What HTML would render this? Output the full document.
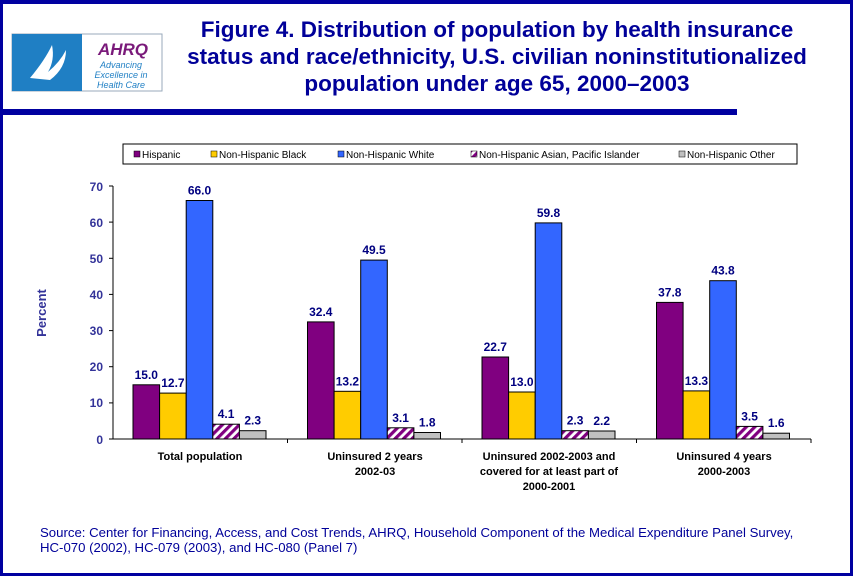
<!DOCTYPE html>
<html><head><meta charset="utf-8"><style>
body{margin:0;width:853px;height:576px;overflow:hidden;background:#fff;font-family:"Liberation Sans",Arial,sans-serif}
</style></head><body>
<svg width="853" height="576" xmlns="http://www.w3.org/2000/svg" font-family="Liberation Sans, Arial, sans-serif">
<defs>
<pattern id="h" width="6" height="6" patternUnits="userSpaceOnUse" patternTransform="rotate(45)">
<rect width="6" height="6" fill="#fff"/><rect width="3.2" height="6" fill="#800080"/></pattern>
</defs>
<rect x="1.5" y="1.5" width="850" height="573" fill="#fff" stroke="#0000a0" stroke-width="3"/>
<rect x="0" y="0" width="853" height="4" fill="#0000a0"/>
<rect x="0" y="109" width="737" height="6" fill="#0000a0"/>
<rect x="12" y="34" width="150" height="57" fill="#fff" stroke="#9ab" stroke-width="1"/>
<rect x="12" y="34" width="70" height="57" fill="#1f7fc4"/>
<path d="M30 78 Q45 60 52 45 Q55 60 48 72 Q60 62 66 50 Q66 68 50 80 Z" fill="#fff"/>
<text x="123" y="55" font-size="17" font-weight="bold" font-style="italic" fill="#7a1a7a" text-anchor="middle">AHRQ</text>
<text x="121" y="68" font-size="9" font-style="italic" fill="#1f7fc4" text-anchor="middle">Advancing</text>
<text x="121" y="78" font-size="9" font-style="italic" fill="#1f7fc4" text-anchor="middle">Excellence in</text>
<text x="121" y="88" font-size="9" font-style="italic" fill="#1f7fc4" text-anchor="middle">Health Care</text>
<g font-size="22.5" font-weight="bold" fill="#000099" text-anchor="middle">
<text x="497" y="37">Figure 4. Distribution of population by health insurance</text>
<text x="497" y="64">status and race/ethnicity, U.S. civilian noninstitutionalized</text>
<text x="497" y="91">population under age 65, 2000–2003</text>
</g>
<rect x="123" y="144" width="674" height="20" fill="#fff" stroke="#000"/>
<g font-size="10" fill="#000">
<rect x="134" y="151" width="6" height="6" fill="#800080" stroke="#000" stroke-width=".5"/><text x="142" y="158">Hispanic</text>
<rect x="211" y="151" width="6" height="6" fill="#ffcc00" stroke="#000" stroke-width=".5"/><text x="219" y="158">Non-Hispanic Black</text>
<rect x="338" y="151" width="6" height="6" fill="#3366ff" stroke="#000" stroke-width=".5"/><text x="346" y="158">Non-Hispanic White</text>
<rect x="471" y="151" width="6" height="6" fill="url(#h)" stroke="#000" stroke-width=".5"/><text x="479" y="158">Non-Hispanic Asian, Pacific Islander</text>
<rect x="679" y="151" width="6" height="6" fill="#c0c0c0" stroke="#000" stroke-width=".5"/><text x="687" y="158">Non-Hispanic Other</text>
</g>
<g stroke="#000" stroke-width="1">
<line x1="113" y1="186" x2="113" y2="439"/>
<line x1="113" y1="439" x2="811" y2="439"/>
<line x1="109" y1="186" x2="113" y2="186"/><line x1="109" y1="222.1" x2="113" y2="222.1"/>
<line x1="109" y1="258.3" x2="113" y2="258.3"/><line x1="109" y1="294.4" x2="113" y2="294.4"/>
<line x1="109" y1="330.6" x2="113" y2="330.6"/><line x1="109" y1="366.7" x2="113" y2="366.7"/>
<line x1="109" y1="402.9" x2="113" y2="402.9"/><line x1="109" y1="439" x2="113" y2="439"/>
<line x1="287.5" y1="439" x2="287.5" y2="443"/><line x1="462" y1="439" x2="462" y2="443"/>
<line x1="636.5" y1="439" x2="636.5" y2="443"/><line x1="811" y1="439" x2="811" y2="443"/>
</g>
<g font-size="12" font-weight="bold" fill="#333399" text-anchor="end">
<text x="103" y="191">70</text><text x="103" y="227">60</text><text x="103" y="263">50</text>
<text x="103" y="299">40</text><text x="103" y="335">30</text><text x="103" y="371">20</text>
<text x="103" y="407">10</text><text x="103" y="444">0</text>
</g>
<text transform="translate(46,313) rotate(-90)" font-size="13" font-weight="bold" fill="#333399" text-anchor="middle">Percent</text>
<g stroke="#000" stroke-width="1">
<rect x="133" y="384.8" width="26.6" height="54.2" fill="#800080"/>
<rect x="159.6" y="393.1" width="26.6" height="45.9" fill="#ffcc00"/>
<rect x="186.2" y="200.5" width="26.6" height="238.5" fill="#3366ff"/>
<rect x="212.8" y="424.2" width="26.6" height="14.8" fill="url(#h)"/>
<rect x="239.4" y="430.7" width="26.6" height="8.3" fill="#c0c0c0"/>
<rect x="307.5" y="321.9" width="26.6" height="117.1" fill="#800080"/>
<rect x="334.1" y="391.3" width="26.6" height="47.7" fill="#ffcc00"/>
<rect x="360.7" y="260.1" width="26.6" height="178.9" fill="#3366ff"/>
<rect x="387.3" y="427.8" width="26.6" height="11.2" fill="url(#h)"/>
<rect x="413.9" y="432.5" width="26.6" height="6.5" fill="#c0c0c0"/>
<rect x="482" y="357" width="26.6" height="82" fill="#800080"/>
<rect x="508.6" y="392" width="26.6" height="47" fill="#ffcc00"/>
<rect x="535.2" y="222.9" width="26.6" height="216.1" fill="#3366ff"/>
<rect x="561.8" y="430.7" width="26.6" height="8.3" fill="url(#h)"/>
<rect x="588.4" y="431" width="26.6" height="8" fill="#c0c0c0"/>
<rect x="656.5" y="302.4" width="26.6" height="136.6" fill="#800080"/>
<rect x="683.1" y="390.9" width="26.6" height="48.1" fill="#ffcc00"/>
<rect x="709.7" y="280.7" width="26.6" height="158.3" fill="#3366ff"/>
<rect x="736.3" y="426.4" width="26.6" height="12.6" fill="url(#h)"/>
<rect x="762.9" y="433.2" width="26.6" height="5.8" fill="#c0c0c0"/>
</g>
<g font-size="12" font-weight="bold" fill="#000080" text-anchor="middle">
<text x="146.3" y="378.8">15.0</text><text x="172.9" y="387.1">12.7</text><text x="199.5" y="194.5">66.0</text><text x="226.1" y="418.2">4.1</text><text x="252.7" y="424.7">2.3</text>
<text x="320.8" y="315.9">32.4</text><text x="347.4" y="385.3">13.2</text><text x="374" y="254.1">49.5</text><text x="400.6" y="421.8">3.1</text><text x="427.2" y="426.5">1.8</text>
<text x="495.3" y="351">22.7</text><text x="521.9" y="386">13.0</text><text x="548.5" y="216.9">59.8</text><text x="575.1" y="424.7">2.3</text><text x="601.7" y="425">2.2</text>
<text x="669.8" y="296.4">37.8</text><text x="696.4" y="384.9">13.3</text><text x="723" y="274.7">43.8</text><text x="749.6" y="420.4">3.5</text><text x="776.2" y="427.2">1.6</text>
</g>
<g font-size="11" font-weight="bold" fill="#000" text-anchor="middle">
<text x="200" y="460">Total population</text>
<text x="375" y="460">Uninsured 2 years</text><text x="375" y="475">2002-03</text>
<text x="549" y="460">Uninsured 2002-2003 and</text><text x="549" y="475">covered for at least part of</text><text x="549" y="490">2000-2001</text>
<text x="724" y="460">Uninsured 4 years</text><text x="724" y="475">2000-2003</text>
</g>
<g font-size="13.2" fill="#000099">
<text x="40" y="537">Source: Center for Financing, Access, and Cost Trends, AHRQ, Household Component of the Medical Expenditure Panel Survey,</text>
<text x="40" y="552">HC-070 (2002), HC-079 (2003), and HC-080 (Panel 7)</text>
</g>
</svg>
</body></html>
